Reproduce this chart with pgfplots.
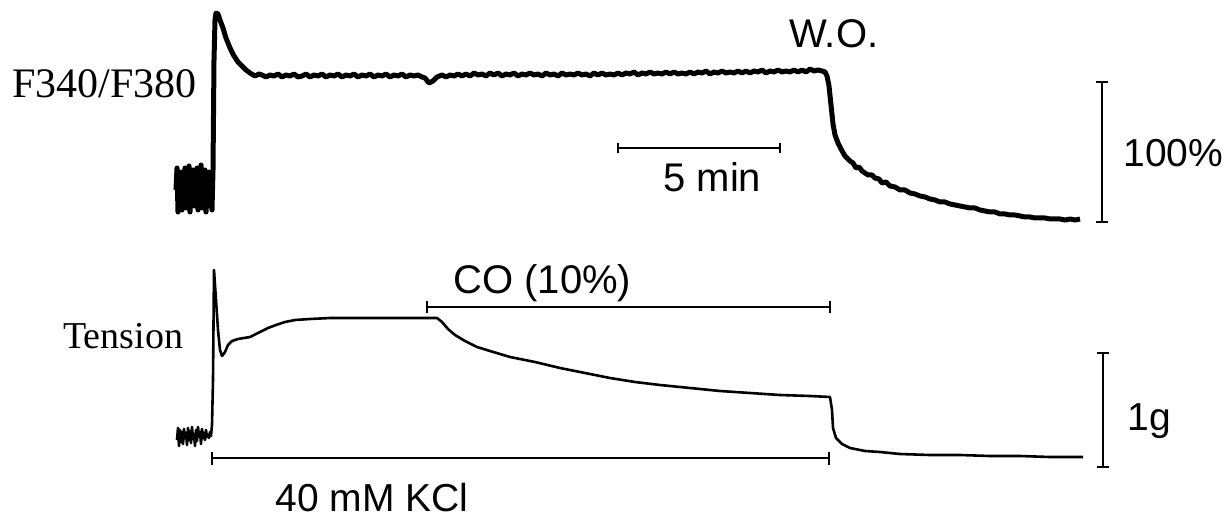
\documentclass[border=0pt]{standalone}
\usepackage{pgfplots}
\pgfplotsset{compat=1.18}
\usepackage{fontspec}
\setmainfont{Liberation Serif}
\newfontfamily\arial{Liberation Sans}

\begin{document}
\begin{tikzpicture}
\begin{axis}[name=ax, width=615.5pt, height=259pt, scale only axis, hide axis,
  xmin=0, xmax=1231, ymin=0, ymax=518, y dir=reverse, clip=false,
  every axis plot/.append style={black, line join=round, no markers}]

% F340/F380 trace
\addplot[line width=2.5pt] coordinates {
(176,190)(177,168)(178,212)(179,175)(180,205)(181,172)(182,210)(183,180)(184,200)(185,168)
(186,208)(187,178)(188,196)(189,166)(190,212)(191,185)(192,200)(193,170)(194,206)(195,180)
(196,190)(197,168)(198,210)(199,176)(200,198)(201,165)(202,208)(203,182)(204,200)(205,170)
(206,212)(207,178)(208,195)(209,172)(210,206)(211,188)(212,210)(213,170)
(214,60)(215,20)(216,13)(218,14)(220,20)(223,28)(226,38)(230,48)(234,56)(238,62)(242,66)
(246,70)(250,73)(255,76)(259,74)(262,75)(266,77)(270,75)(274,76)(278,74)(282,77)(286,75)
(290,76)(294,74)(298,77)(302,76)(306,74)(310,77)(314,75)(318,76)(322,74)(326,77)(330,75)
(334,76)(338,74)(342,77)(346,75)(350,76)(354,74)(358,77)(362,75)(366,76)(370,74)(374,77)
(378,75)(382,76)(386,74)(390,77)(394,75)(398,76)(402,74)(406,77)(410,75)(414,76)(418,75)
(422,77)(425,78)(429,83)(433,81)(437,77)(442,75)(446,77)(450,75)(454,76)(458,74)(462,76)
(466,74)(470,76)(474,73)(478,75)(482,74)(486,76)(490,73)(494,75)(498,73)(502,76)(506,74)
(510,75)(514,73)(518,76)(522,74)(526,75)(530,73)(534,75)(538,74)(542,76)(546,73)(550,75)
(554,74)(558,76)(562,73)(566,75)(570,74)(574,75)(578,73)(582,75)(586,74)(590,76)(594,73)
(598,75)(602,73)(606,75)(610,74)(614,75)(618,73)(622,75)(626,73)(630,74)(634,72)(638,75)
(642,73)(646,74)(650,72)(654,74)(658,73)(662,74)(666,72)(670,74)(674,72)(678,74)(682,73)
(686,74)(690,72)(694,74)(698,72)(702,73)(706,71)(710,74)(714,72)(718,73)(722,71)(726,73)
(730,72)(734,73)(738,71)(742,73)(746,71)(750,73)(754,71)(758,72)(762,70)(766,73)(770,71)
(774,72)(778,70)(782,72)(786,71)(790,72)(794,70)(798,72)(802,70)(806,72)(810,69)(814,71)
(818,70)(822,71)(825,72)(827,76)(829,86)(831,105)(833,124)(835,135)(838,143)(841,149)
(845,156)(850,161)(853,163)(856,168)(859,167)(862,171)(865,173)(868,175)(872,175)(875,178)
(879,179)(882,183)(886,182)(890,186)(895,187)(900,190)(905,190)(910,193)(915,194)(920,196)
(925,197)(930,199)(935,200)(940,202)(945,202)(950,204)(955,205)(960,206)(965,207)(970,208)
(975,208)(980,210)(985,211)(990,212)(995,212)(1000,214)(1005,214)(1010,215)(1015,215)
(1020,216)(1025,217)(1030,217)(1035,218)(1040,218)(1045,218)(1050,219)(1055,219)(1060,219)
(1065,220)(1070,219)(1075,220)(1080,219)
};

% Tension trace
\addplot[line width=1.3pt] coordinates {
(177,440)(178,428)(179,446)(180,430)(181,442)(182,432)(183,444)(184,429)(185,438)(186,433)
(187,445)(188,428)(189,440)(190,431)(191,443)(192,427)(193,439)(194,434)(195,446)(196,430)
(197,441)(198,427)(199,436)(200,432)(201,444)(202,429)(203,438)(204,433)(205,440)(206,430)
(207,437)(208,435)(209,438)(210,432)(211,436)(212,425)(213,380)(214,270)(216,300)(218,330)
(220,350)(222,356)(225,352)(228,345)(232,341)(238,339)(244,338)(250,337)(256,334)(262,331)
(268,328)(276,325)(285,322)(295,320)(310,319)(330,318)(360,318)(400,318)(437,318)(442,322)
(448,329)(455,335)(465,341)(477,347)(490,351)(510,357)(535,362)(560,368)(585,373)(610,378)
(635,382)(660,385)(690,388)(720,391)(750,393)(780,395)(810,396)(830,397)(832,410)(833,428)
(836,438)(842,444)(850,448)(865,451)(880,452)(900,454)(930,455)(960,455)(990,456)
(1020,456)(1050,457)(1083,457)
};

% scale bars
\addplot[line width=1pt] coordinates {(618,148)(780,148)};
\addplot[line width=1pt] coordinates {(618,143)(618,153)};
\addplot[line width=1pt] coordinates {(780,143)(780,153)};

\addplot[line width=1pt] coordinates {(427,307)(830,307)};
\addplot[line width=1pt] coordinates {(427,301)(427,313)};
\addplot[line width=1pt] coordinates {(830,301)(830,313)};

\addplot[line width=1pt] coordinates {(212,458)(829,458)};
\addplot[line width=1pt] coordinates {(212,452)(212,465)};
\addplot[line width=1pt] coordinates {(829,452)(829,465)};

\addplot[line width=1pt] coordinates {(1102,82)(1102,222)};
\addplot[line width=1pt] coordinates {(1096,82)(1108,82)};
\addplot[line width=1pt] coordinates {(1096,222)(1108,222)};

\addplot[line width=1pt] coordinates {(1103,353)(1103,467)};
\addplot[line width=1pt] coordinates {(1097,353)(1109,353)};
\addplot[line width=1pt] coordinates {(1097,467)(1109,467)};

% labels
\node[anchor=base west, inner sep=0, font=\fontsize{21}{23}\selectfont] at (axis cs:12,98) {F340/F380};
\node[anchor=base west, inner sep=0, font=\fontsize{19}{21}\selectfont] at (axis cs:63,348) {Tension};
\node[anchor=base west, inner sep=0, font=\arial\fontsize{20}{22}\selectfont] at (axis cs:789,48) {W.O.};
\node[anchor=base west, inner sep=0, font=\arial\fontsize{20}{22}\selectfont] at (axis cs:663,192) {5 min};
\node[anchor=base west, inner sep=0, font=\arial\fontsize{19.5}{22}\selectfont] at (axis cs:1123,167) {100\%};
\node[anchor=base west, inner sep=0, font=\arial\fontsize{20}{22}\selectfont] at (axis cs:453,293) {CO (10\%)};
\node[anchor=base west, inner sep=0, font=\arial\fontsize{19.5}{22}\selectfont] at (axis cs:1127,430) {1g};
\node[anchor=base west, inner sep=0, font=\arial\fontsize{19.5}{22}\selectfont] at (axis cs:275,511) {40 mM KCl};
\end{axis}
\path (ax.south west) rectangle (ax.north east);
\end{tikzpicture}
\end{document}
